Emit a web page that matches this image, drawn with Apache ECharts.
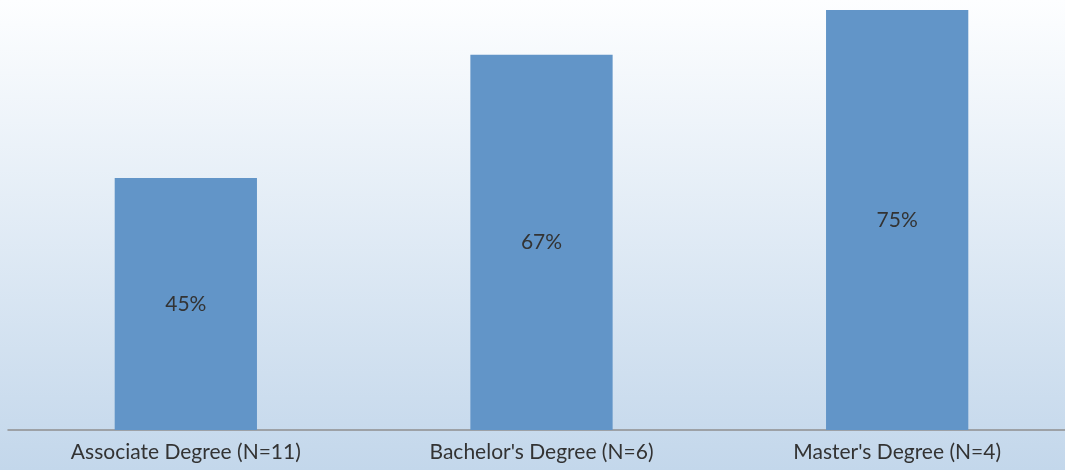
<!DOCTYPE html>
<html><head><meta charset="utf-8">
<script src="https://cdn.jsdelivr.net/npm/echarts@6/dist/echarts.min.js"></script>
<style>html,body{margin:0;padding:0;}#c{width:1065px;height:470px;}</style>
</head><body><div id="c"></div>
<script>
const categories = ["Associate Degree (N=11)", "Bachelor's Degree (N=6)", "Master's Degree (N=4)"];
const values = [45, 67, 75];

const chart = echarts.init(document.getElementById('c'));
chart.setOption({
  animation: false,
  backgroundColor: {type:'linear', x:0, y:0, x2:0, y2:1, colorStops:[{offset:0,color:'#fdfeff'},{offset:1,color:'#c3d7eb'}]},
  grid: {left: 8, top: 10, width: 1067, height: 420, containLabel: false, outerBoundsMode: 'none'},
  xAxis: {
    type: 'category', data: categories,
    axisLine: {show: true, lineStyle: {color: '#8f8f8f', width: 1.5}},
    axisTick: {show: false},
    axisLabel: {color: '#333', fontSize: 21, fontFamily: 'Lato', margin: 12}
  },
  yAxis: {type: 'value', min: 0, max: 75, show: false, splitLine: {show: false}},
  series: [{
    type: 'bar', data: values, barWidth: '40%',
    itemStyle: {color: '#6295c8'},
    label: {show: true, position: 'inside', formatter: '{c}%', color: '#333', fontSize: 21, fontFamily: 'Lato'}
  }]
});
</script></body></html>
